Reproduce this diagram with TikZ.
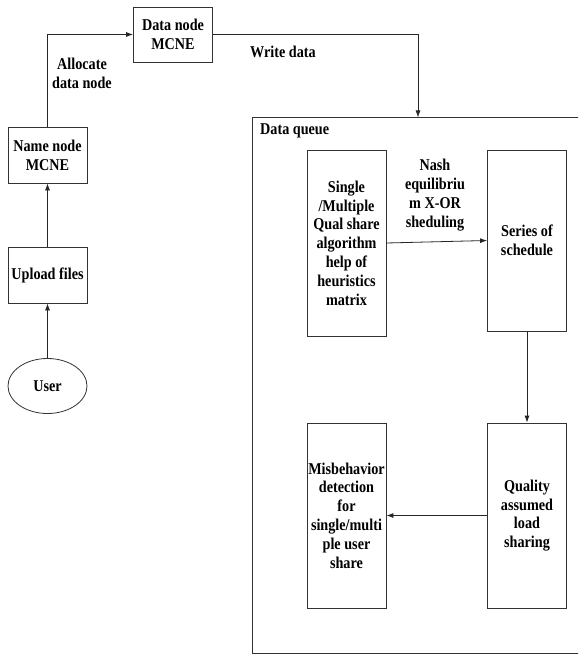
\documentclass[tikz,border=0pt]{standalone}
\usepackage{fontspec}
\setmainfont{Liberation Serif}
\newfontfamily\lblfont[FakeStretch=0.86]{Liberation Serif Bold}
\usetikzlibrary{arrows.meta,shapes.geometric}
\begin{document}
\begin{tikzpicture}[x=1pt,y=-1pt,
  lbl/.style={font=\lblfont\fontsize{16.5}{18.8}\selectfont, align=center, inner sep=0pt},
  boxn/.style={draw=black!80, line width=0.8pt, minimum width=79pt, lbl},
  conn/.style={draw=black!85, line width=0.8pt},
  arr/.style={conn, -{Latex[length=7pt,width=5pt]}}]
\clip (0,0) rectangle (578,655);
\useasboundingbox (0,0) rectangle (578,655);
% left column
\node[boxn, minimum height=55pt] (data) at (173,34.5) {Data node\\MCNE};
\node[boxn, minimum height=56pt] (name) at (47.5,155) {Name node\\MCNE};
\node[boxn, minimum height=56pt] (upload) at (47.5,275) {Upload files};
\node[draw=black!80, line width=0.8pt, ellipse, minimum width=79pt, minimum height=55pt, lbl] (user) at (47.5,386) {User};
\draw[arr] (user) -- (upload);
\draw[arr] (upload) -- (name);
\coordinate (c1) at (47.5,34.5);
\draw[arr] (name.north) -- (c1) -- (data.west);
\node[lbl] (alloc) at (82,73) {Allocate\\data node};
% data queue frame
\node[draw=black!80, line width=0.8pt, minimum width=340pt, minimum height=535pt, inner sep=0pt, anchor=north west] (queue) at (252,117.5) {};
\node[lbl, anchor=west] (qlbl) at (260,131) {Data queue};
\coordinate (c2) at (418,34.5);
\draw[arr] (data.east) -- (c2) -- (c2 |- queue.north);
\node[lbl, anchor=west] (write) at (250,52) {Write data};
% inner boxes
\node[boxn, minimum height=186pt] (single) at (346.5,243) {Single\\/Multiple\\Qual share\\algorithm\\help of\\heuristics\\matrix};
\node[boxn, minimum height=181pt] (series) at (527,240.5) {Series of\\schedule};
\node[boxn, minimum height=185pt] (quality) at (527,515.5) {Quality\\assumed\\load\\sharing};
\node[boxn, minimum height=185pt] (misb) at (346.5,515.5) {Misbehavior\\detection\\for\\single/multi\\ple user\\share};
\draw[arr] (single.east) -- (series.west);
\node[lbl] (nash) at (435,195) {Nash\\equilibriu\\m X-OR\\sheduling};
\draw[arr] (series.south) -- (quality.north);
\draw[arr] (quality.west) -- (misb.east);
\end{tikzpicture}
\end{document}
